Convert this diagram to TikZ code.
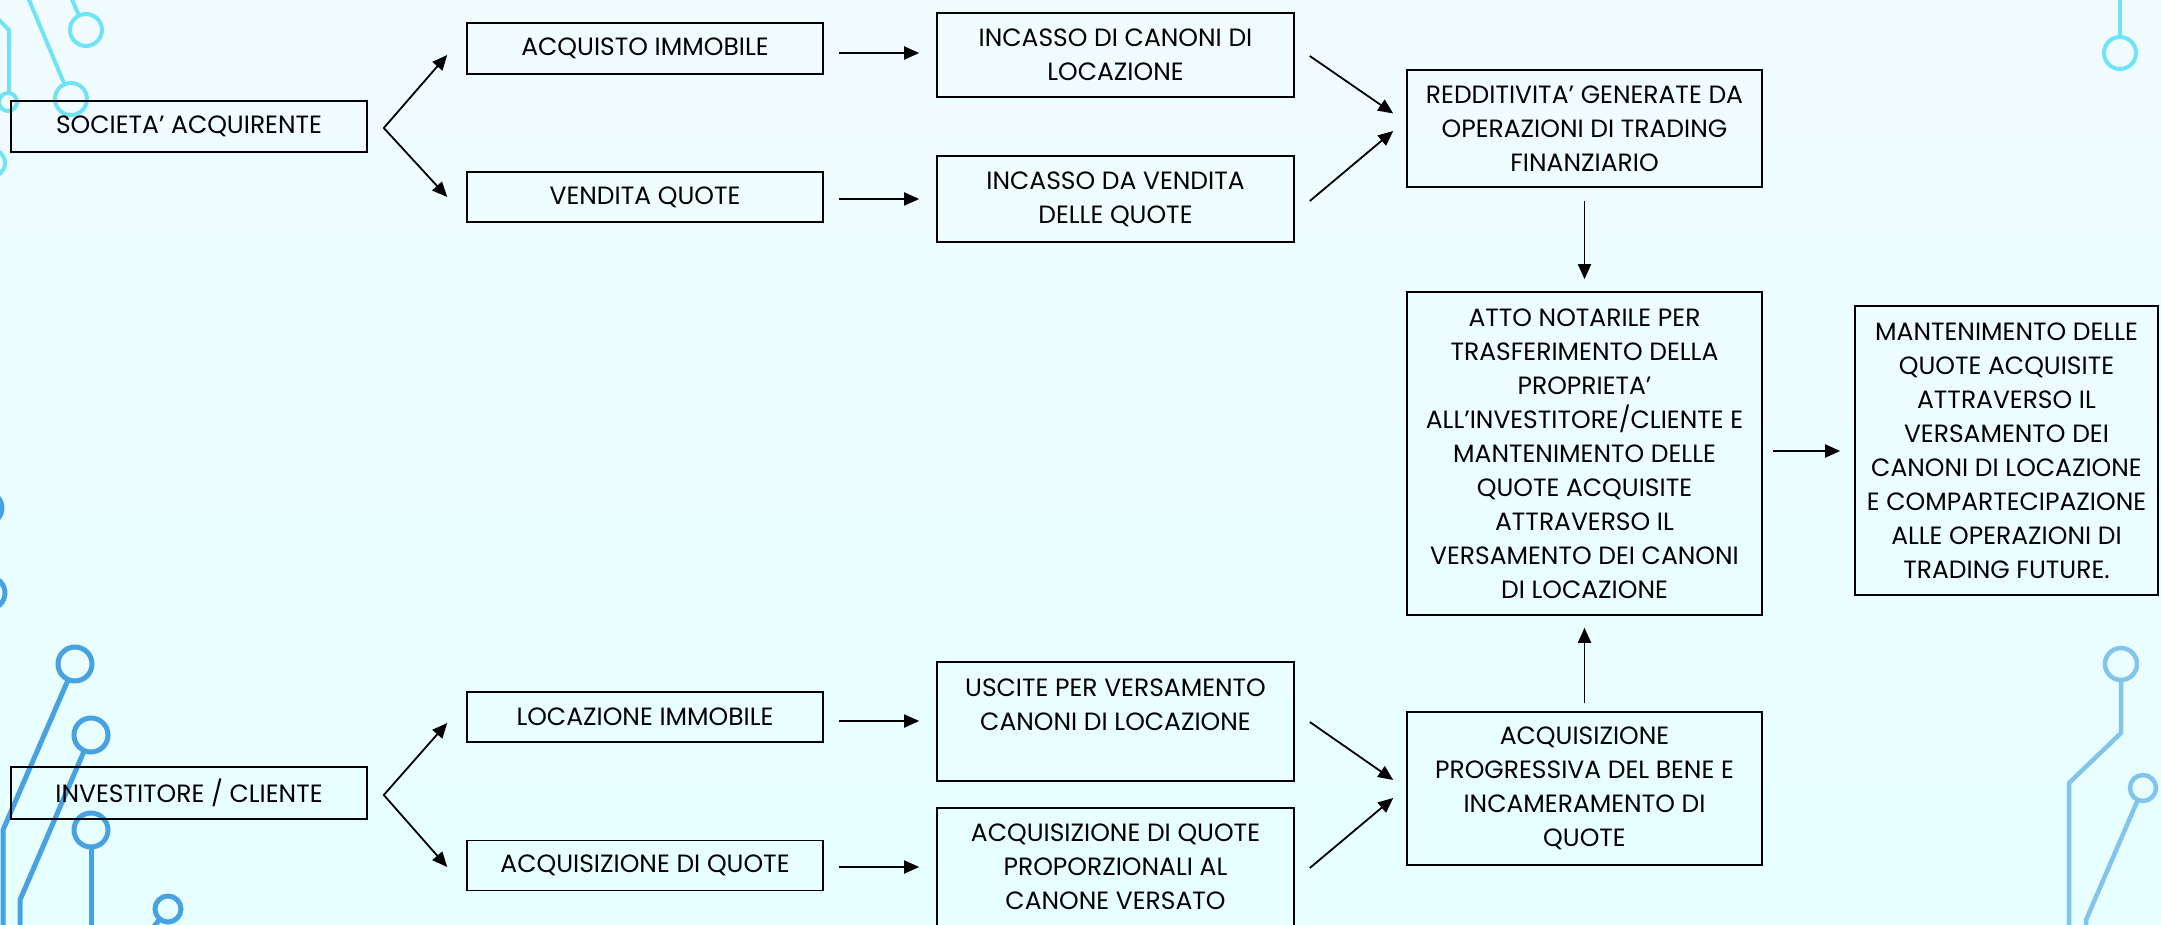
\documentclass[tikz,border=0pt]{standalone}
\usepackage{fontspec}
\setmainfont{Poppins}
\usetikzlibrary{arrows.meta,calc}
\definecolor{bgtop}{RGB}{241,252,255}
\definecolor{bgbot}{RGB}{231,255,255}
\definecolor{wirecyan}{RGB}{112,228,246}
\definecolor{wireblue}{RGB}{72,162,226}
\definecolor{wirelight}{RGB}{130,196,236}

\begin{document}
\begin{tikzpicture}[x=1pt,y=-1pt,
  box/.style={draw=black, line width=1.6pt, minimum width=356pt, inner sep=0pt,
    align=center, font=\fontsize{25}{34}\selectfont},
  arr/.style={line width=1.8pt, -{Triangle[length=15pt,width=13pt]}},
  fork/.style={line width=1.8pt, line join=miter,
    {Triangle[length=15pt,width=13pt]}-{Triangle[length=15pt,width=13pt]}}]

\fill[top color=bgtop, bottom color=bgbot] (0,0) rectangle (2161,925);
\useasboundingbox (0,0) rectangle (2161,925);

% circuit lines
\begin{scope}
\clip (0,0) rectangle (2161,925);
\begin{scope}[draw=wirecyan, line width=4pt]
\draw (27,-5) -- (64.5,84.3);
\draw (71,99) circle[radius=16pt];
\draw (70,-5) -- (79,15.5);
\draw (86,30) circle[radius=16pt];
\draw (-5,16) -- (9,30) -- (9,93);
\draw (8,102) circle[radius=9pt];
\draw (-9,163) circle[radius=14pt];
\draw (2120,-5) -- (2120,37);
\draw (2120,53) circle[radius=16pt];
\end{scope}
\begin{scope}[draw=wireblue, line width=5pt]
\draw (-14,508) circle[radius=16pt];
\draw (-11,593) circle[radius=16pt];
\draw (75,664) circle[radius=17pt];
\draw (68.2,679.6) -- (3,830) -- (3,935);
\draw (91,735) circle[radius=17pt];
\draw (84.3,750.6) -- (20,900) -- (20,935);
\draw (91,830) circle[radius=17pt];
\draw (91,847) -- (91,935);
\draw (168,909) circle[radius=13pt];
\draw (159.8,919.1) -- (148,934);
\end{scope}
\begin{scope}[draw=wirelight, line width=4.5pt]
\draw (2121,664) circle[radius=16pt];
\draw (2121,680) -- (2121,733) -- (2069,783) -- (2069,935);
\draw (2143,788) circle[radius=13pt];
\draw (2137.8,799.9) -- (2086,920) -- (2086,935);
\end{scope}
\end{scope}

\node[box, minimum height=51pt] (soc) at (189,126.5) {SOCIETA’ ACQUIRENTE};
\node[box, minimum height=51pt] (acq) at (645,48.5) {ACQUISTO IMMOBILE};
\node[box, minimum height=50pt] (ven) at (645,197) {VENDITA QUOTE};
\node[box, minimum width=357pt, minimum height=84pt] (inc1) at (1115.5,55)
  {INCASSO DI CANONI DI\\LOCAZIONE};
\node[box, minimum width=357pt, minimum height=86pt] (inc2) at (1115.5,199)
  {INCASSO DA VENDITA\\DELLE QUOTE};
\node[box, minimum width=355pt, minimum height=117pt] (red) at (1584.5,128.5)
  {REDDITIVITA’ GENERATE DA\\OPERAZIONI DI TRADING\\FINANZIARIO};
\node[box, minimum width=355pt, minimum height=323pt] (atto) at (1584.5,453.5)
  {ATTO NOTARILE PER\\TRASFERIMENTO DELLA\\PROPRIETA’\\ALL’INVESTITORE/CLIENTE E\\MANTENIMENTO DELLE\\QUOTE ACQUISITE\\ATTRAVERSO IL\\VERSAMENTO DEI CANONI\\DI LOCAZIONE};
\node[box, minimum width=303pt, minimum height=289pt] (mant) at (2006.5,450.5)
  {MANTENIMENTO DELLE\\QUOTE ACQUISITE\\ATTRAVERSO IL\\VERSAMENTO DEI\\CANONI DI LOCAZIONE\\E COMPARTECIPAZIONE\\ALLE OPERAZIONI DI\\TRADING FUTURE.};

\node[box, minimum height=52pt] (inv) at (189,793) {INVESTITORE / CLIENTE};
\node[box, minimum height=50pt] (loc) at (645,717) {LOCAZIONE IMMOBILE};
\node[box, minimum height=50pt] (aqq) at (645,865.5) {ACQUISIZIONE DI QUOTE};
\node[box, minimum width=357pt, minimum height=119pt] (usc) at (1115.5,721.5)
  {USCITE PER VERSAMENTO\\CANONI DI LOCAZIONE\\~};
\node[box, minimum width=357pt, minimum height=118pt] (prop) at (1115.5,867)
  {ACQUISIZIONE DI QUOTE\\PROPORZIONALI AL\\CANONE VERSATO};
\node[box, minimum width=355pt, minimum height=153pt] (prog) at (1584.5,788.5)
  {ACQUISIZIONE\\PROGRESSIVA DEL BENE E\\INCAMERAMENTO DI\\QUOTE};

\coordinate (fa) at ($(soc.east)+(16,1.5)$);
\coordinate (fb) at ($(inv.east)+(16,2)$);
\draw[fork] ($(acq.west)+(-19,6.5)$) -- (fa) -- ($(ven.west)+(-19,0)$);
\draw[fork] ($(loc.west)+(-19,6)$) -- (fb) -- ($(aqq.west)+(-19,1.5)$);

\draw[arr] ($(acq.east)+(15,4.5)$) -- ($(inc1.west)+(-17,-2)$);
\draw[arr] ($(ven.east)+(15,2)$) -- ($(inc2.west)+(-17,0)$);
\draw[arr] ($(loc.east)+(15,4)$) -- ($(usc.west)+(-17,-0.5)$);
\draw[arr] ($(aqq.east)+(15,1.5)$) -- ($(prop.west)+(-17,0)$);

\draw[arr] ($(inc1.east)+(15,1)$) -- ($(red.west)+(-13,-15)$);
\draw[arr] ($(inc2.east)+(15,2)$) -- ($(red.west)+(-13,2.5)$);
\draw[arr] ($(usc.east)+(15,0.5)$) -- ($(prog.west)+(-13,-8.5)$);
\draw[arr] ($(prop.east)+(15,1)$) -- ($(prog.west)+(-13,9.5)$);

\draw[arr] ($(red.south)+(0,13)$) -- ($(atto.north)+(0,-12)$);
\draw[arr] ($(prog.north)+(0,-8)$) -- ($(atto.south)+(0,12)$);
\draw[arr] ($(atto.east)+(10,-2.5)$) -- ($(mant.west)+(-14,0.5)$);

\end{tikzpicture}
\end{document}
